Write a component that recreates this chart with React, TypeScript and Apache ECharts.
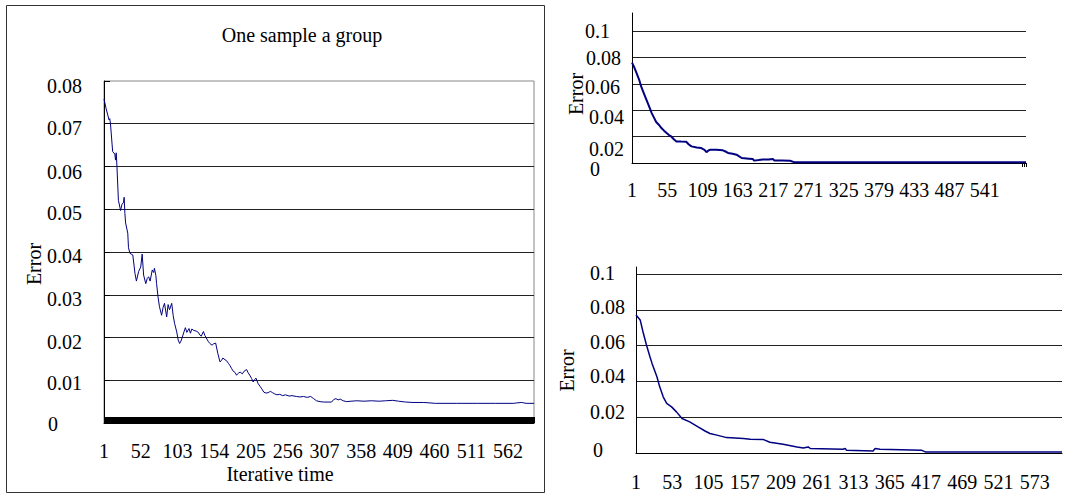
import React, { useEffect, useRef } from "react";
import * as echarts from "echarts";

const FONT = "Liberation Serif, Times New Roman, serif";
const NAVY = "#000080";

// ---------- Left chart: "One sample a group" ----------
const leftCount = 598;
const leftCategories = Array.from({ length: leftCount }, (_, i) => String(i + 1));
const leftIter = [
  1, 4, 8, 9, 10, 13, 16, 17, 18, 19, 21, 23, 24, 26, 28, 29, 30, 31, 34, 35, 37, 41, 44, 46, 49,
  52, 54, 56, 59, 61, 63, 65, 68, 70, 71, 73, 74, 76, 78, 81, 83, 85, 88, 90, 92, 95, 97, 99, 102,
  104, 106, 108, 112, 114, 116, 119, 121, 123, 125, 129, 132, 134, 136, 139, 141, 143, 146, 148,
  151, 153, 156, 159, 162, 164, 166, 169, 171, 174, 176, 178, 180, 183, 185, 188, 190, 193, 196,
  199, 201, 204, 206, 208, 210, 212, 215, 218, 220, 223, 226, 229, 232, 235, 238, 241, 245, 249,
  253, 258, 262, 268, 273, 278, 283, 288, 292, 296, 301, 306, 312, 317, 320, 323, 326, 329, 333,
  338, 344, 352, 362, 372, 383, 392, 402, 410, 420, 430, 445, 461, 490, 520, 545, 570, 574, 581,
  584, 587, 598,
];
const leftError = [
  0.0758, 0.0735, 0.0709, 0.0712, 0.07, 0.0635, 0.0629, 0.0615, 0.0632, 0.06, 0.0521, 0.0505,
  0.0497, 0.0512, 0.0515, 0.0528, 0.049, 0.0468, 0.0444, 0.041, 0.0397, 0.0393, 0.035, 0.0332,
  0.0354, 0.0365, 0.0395, 0.0346, 0.0326, 0.0338, 0.0342, 0.0332, 0.0358, 0.0352, 0.0362, 0.0345,
  0.0326, 0.0295, 0.0272, 0.0252, 0.027, 0.028, 0.0248, 0.0277, 0.0265, 0.028, 0.0252, 0.0233,
  0.0213, 0.0194, 0.0186, 0.0192, 0.0213, 0.0223, 0.0212, 0.0221, 0.021, 0.022, 0.0217, 0.0215,
  0.0212, 0.0206, 0.0203, 0.0214, 0.0205, 0.0199, 0.019, 0.0186, 0.0182, 0.0185, 0.0187, 0.0163,
  0.0143, 0.0146, 0.0152, 0.0148, 0.0146, 0.0139, 0.0134, 0.0128, 0.0122, 0.0118, 0.0112, 0.0117,
  0.0119, 0.0115, 0.0122, 0.0125, 0.0118, 0.011, 0.0104, 0.0096, 0.0101, 0.0105, 0.0092, 0.0085,
  0.008, 0.0072, 0.007, 0.0071, 0.0074, 0.0071, 0.0068, 0.0066, 0.0067, 0.0064, 0.0066, 0.0063,
  0.0064, 0.0062, 0.0061, 0.0062, 0.006, 0.0062, 0.0057, 0.0052, 0.005, 0.0049, 0.0049, 0.0049,
  0.0055, 0.0057, 0.0054, 0.0056, 0.0052, 0.005, 0.0051, 0.0052, 0.0051, 0.0052, 0.0051, 0.0052,
  0.0053, 0.0051, 0.0049, 0.0048, 0.0048, 0.0046, 0.0046, 0.0046, 0.0046, 0.0046, 0.0047, 0.0048,
  0.0047, 0.0046, 0.0046,
];
const leftYTickLabels = ["0", "0.01", "0.02", "0.03", "0.04", "0.05", "0.06", "0.07", "0.08"];

// ---------- Top-right chart ----------
const topCount = 604;
const topCategories = Array.from({ length: topCount }, (_, i) => String(i + 1));
const topIter = [
  1, 4, 8, 12, 15, 19, 23, 27, 31, 35, 38, 42, 46, 50, 54, 58, 61, 65, 69, 76, 84, 88, 92, 100,
  107, 112, 115, 118, 121, 130, 140, 145, 148, 155, 161, 165, 169, 180, 186, 188, 195, 201, 210,
  217, 219, 230, 243, 250, 604,
];
const topError = [
  0.076, 0.073, 0.068, 0.063, 0.058, 0.053, 0.048, 0.043, 0.038, 0.034, 0.031, 0.029, 0.0265,
  0.0245, 0.0227, 0.021, 0.0201, 0.018, 0.0163, 0.0162, 0.0161, 0.014, 0.0126, 0.0118, 0.0113,
  0.01, 0.0082, 0.0095, 0.0101, 0.01, 0.0096, 0.0085, 0.0076, 0.007, 0.0063, 0.005, 0.0038,
  0.0033, 0.003, 0.0018, 0.0022, 0.0026, 0.0026, 0.003, 0.0018, 0.0018, 0.0017, 0.0005, 0.0005,
];
const topYTickLabels = ["0", "0.02", "0.04", "0.06", "0.08", "0.1"];

// ---------- Bottom-right chart ----------
const bottomCount = 612;
const bottomCategories = Array.from({ length: bottomCount }, (_, i) => String(i + 1));
const bottomIter = [
  1, 7, 11, 16, 21, 24, 31, 35, 40, 45, 52, 59, 67, 78, 90, 100, 107, 117, 131, 155, 165, 184,
  193, 212, 232, 241, 248, 251, 298, 301, 303, 341, 344, 351, 411, 416, 612,
];
const bottomError = [
  0.0772, 0.0744, 0.0678, 0.0604, 0.0538, 0.0501, 0.0426, 0.037, 0.0314, 0.0277, 0.0258, 0.023,
  0.0193, 0.0174, 0.0146, 0.0123, 0.0109, 0.01, 0.0086, 0.0081, 0.0077, 0.0075, 0.006, 0.0049,
  0.0034, 0.0028, 0.0034, 0.0025, 0.0021, 0.0026, 0.0015, 0.0011, 0.0025, 0.0021, 0.0015, 0.0006,
  0.0006,
];
const bottomYTickLabels = ["0", "0.02", "0.04", "0.06", "0.08", "0.1"];

// label nudges (style): [dy, dx] in px, per tick label index
const leftNudge = [[1, 1], [3, 0], [4, 0], [4, 0], [4, 0], [4, 0], [5, 0], [4, 0], [5, 0]];
const topNudge = [[6, 5], [12, 4], [7, 4], [3, 0], [1, 1], [0, 0]];
const bottomNudge = [[-3, 3], [-5, 0], [-5, 0], [-4, 0], [-3, 0], [-1, 0]];

const textBase = { fontFamily: FONT, fontSize: 20, color: "#000" };

function yLabel(
  labels: string[],
  nudge: number[][],
  margin: number,
  showMin: boolean,
  showMax: boolean,
  only?: (lab: string) => boolean
) {
  const rich: Record<string, any> = {};
  labels.forEach((_, i) => {
    const [dy, dx] = nudge[i];
    rich["k" + i] = {
      ...textBase,
      padding: [dy > 0 ? 2 * dy : 0, 0, dy < 0 ? -2 * dy : 0, dx],
    };
  });
  return {
    show: true,
    align: "left",
    margin,
    ...textBase,
    hideOverlap: false,
    showMinLabel: showMin,
    showMaxLabel: showMax,
    formatter: (v: number) => {
      const lab = String(+Number(v).toFixed(4));
      const i = labels.indexOf(lab);
      if (i < 0) return "";
      if (only && !only(lab)) return "";
      return `{k${i}|${lab}}`;
    },
    rich,
  };
}

function pairs(iter: number[], vals: number[]) {
  return iter.map((it, k) => [it - 1, vals[k]]);
}

export default function App() {
  const ref = useRef<HTMLDivElement>(null);
  useEffect(() => {
    if (!ref.current) return;
    const chart = echarts.init(ref.current, null, { renderer: "svg" });
    const topMax = 0.1136;
    const option: any = {
      animation: false,
      backgroundColor: "#fff",
      textStyle: { fontFamily: FONT },
      title: {
        text: "One sample a group",
        left: 302,
        top: 25,
        padding: 0,
        textAlign: "center",
        textStyle: { ...textBase, fontWeight: "normal" },
      },
      graphic: [
        {
          type: "rect",
          shape: { x: 6.5, y: 5.5, width: 538, height: 487 },
          style: { fill: "none", stroke: "#333", lineWidth: 1 },
          silent: true,
        },
      ],
      grid: [
        { left: 104, top: 81, width: 430, height: 342, show: true, borderColor: "#888", borderWidth: 1, outerBoundsMode: "none" },
        { left: 632, top: 13, width: 394, height: 150, outerBoundsMode: "none" },
        { left: 636, top: 267, width: 426, height: 186, outerBoundsMode: "none" },
      ],
      xAxis: [
        {
          type: "category",
          gridIndex: 0,
          data: leftCategories,
          boundaryGap: false,
          axisLine: { show: true, lineStyle: { color: "#000", width: 1 } },
          axisTick: { show: true, interval: 0, inside: true, length: 6, lineStyle: { color: "#000", width: 1 } },
          axisLabel: { interval: 50, margin: 18, ...textBase },
          splitLine: { show: false },
          name: "Iterative time",
          nameLocation: "middle",
          nameGap: 41,
          nameMoveOverlap: false,
          nameTextStyle: { ...textBase, padding: [0, 78, 0, 0] },
        },
        {
          type: "category",
          gridIndex: 1,
          data: topCategories,
          boundaryGap: false,
          axisLine: { show: true, lineStyle: { color: "#000", width: 1 } },
          axisTick: {
            show: true,
            interval: (i: number) => i === topCount - 1 || i === topCount - 4 || i === topCount - 7,
            length: 4,
            lineStyle: { color: "#000", width: 1 },
          },
          axisLabel: {
            interval: (i: number) => i % 54 === 0 && i <= 540,
            margin: 17,
            ...textBase,
          },
          splitLine: { show: false },
        },
        {
          type: "category",
          gridIndex: 2,
          data: bottomCategories,
          boundaryGap: false,
          axisLine: { show: true, lineStyle: { color: "#000", width: 1 } },
          axisTick: { show: false },
          axisLabel: { interval: 51, margin: 19, ...textBase },
          splitLine: { show: false },
        },
      ],
      yAxis: [
        {
          type: "value",
          gridIndex: 0,
          min: 0,
          max: 0.08,
          interval: 0.01,
          axisLine: { show: true, lineStyle: { color: "#000", width: 1 } },
          axisTick: { show: true, inside: true, length: 6, lineStyle: { color: "#000" } },
          splitLine: { show: true, showMaxLine: false, lineStyle: { color: "#222", width: 1 } },
          axisLabel: yLabel(leftYTickLabels, leftNudge, 57, true, true),
          name: "Error",
          nameLocation: "middle",
          nameGap: 60,
          nameMoveOverlap: false,
          nameTextStyle: { ...textBase, padding: [0, 24, 0, 0] },
        },
        {
          type: "value",
          gridIndex: 1,
          position: "left",
          offset: 0,
          min: 0,
          max: topMax,
          interval: 0.02,
          axisLine: { show: true, lineStyle: { color: "#000", width: 1 } },
          axisTick: { show: false },
          splitLine: { show: true, showMaxLine: false, lineStyle: { color: "#222", width: 1 } },
          axisLabel: yLabel(topYTickLabels, topNudge, 47, false, false, (l) => l !== "0"),
          name: "Error",
          nameLocation: "middle",
          nameGap: 46,
          nameMoveOverlap: false,
          nameTextStyle: { ...textBase, padding: [0, 12, 0, 0] },
        },
        {
          type: "value",
          gridIndex: 2,
          min: 0,
          max: 0.104,
          interval: 0.02,
          axisLine: { show: true, lineStyle: { color: "#000", width: 1 } },
          axisTick: { show: false },
          splitLine: { show: true, showMaxLine: false, lineStyle: { color: "#222", width: 1 } },
          axisLabel: yLabel(bottomYTickLabels, bottomNudge, 46, true, false),
          name: "Error",
          nameLocation: "middle",
          nameGap: 59,
          nameMoveOverlap: false,
          nameTextStyle: { ...textBase, padding: [0, 21, 0, 0] },
        },
        {
          // companion axis of the top-right chart that carries only its "0" label
          type: "value",
          gridIndex: 1,
          position: "left",
          offset: 0,
          min: 0,
          max: topMax,
          interval: 0.02,
          axisLine: { show: false },
          axisTick: { show: false },
          splitLine: { show: false },
          axisLabel: yLabel(topYTickLabels, topNudge, 47, true, false, (l) => l === "0"),
        },
      ],
      series: [
        {
          type: "line",
          xAxisIndex: 0,
          yAxisIndex: 0,
          data: pairs(leftIter, leftError),
          showSymbol: false,
          symbol: "none",
          lineStyle: { color: NAVY, width: 1 },
          z: 5,
        },
        {
          type: "line",
          xAxisIndex: 1,
          yAxisIndex: 1,
          data: pairs(topIter, topError),
          showSymbol: false,
          symbol: "none",
          lineStyle: { color: NAVY, width: 2 },
          z: 5,
        },
        {
          type: "line",
          xAxisIndex: 2,
          yAxisIndex: 2,
          data: pairs(bottomIter, bottomError),
          showSymbol: false,
          symbol: "none",
          lineStyle: { color: NAVY, width: 1.5 },
          z: 5,
        },
      ],
    };
    chart.setOption(option);
    return () => chart.dispose();
  }, []);
  return (
    <div
      ref={ref}
      style={{ position: "fixed", left: 0, top: 0, width: 1073, height: 494, background: "#fff" }}
    />
  );
}
